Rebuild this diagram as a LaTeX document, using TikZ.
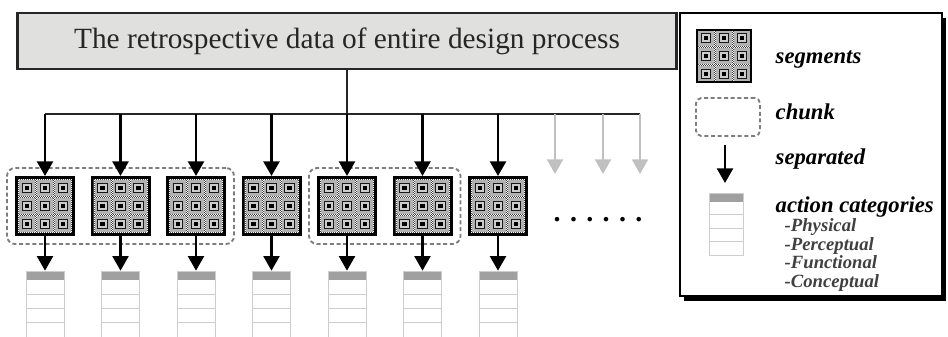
\documentclass[tikz,border=0pt]{standalone}
\usepackage{fontspec}
\setmainfont{Liberation Serif}
\usetikzlibrary{arrows.meta, positioning, calc, fit, shadows}

\definecolor{BoxGray}{RGB}{224,224,222}
\definecolor{HeadGray}{RGB}{160,160,160}
\definecolor{RuleGray}{RGB}{205,205,205}
\definecolor{ArrowGray}{RGB}{192,192,192}
\definecolor{ChunkGray}{RGB}{125,125,125}

\tikzset{
  segbox/.style={draw=black, line width=2pt, fill=black!75, minimum size=43pt, inner sep=0pt,
    path picture={
      \foreach \u in {-1,0,1} \foreach \v in {-1,0,1} {
        \coordinate (cc) at ($(path picture bounding box.center)+(\u*13.5pt,\v*13.5pt)$);
        \fill[gray!60] ($(cc)+(-6pt,-6pt)$) rectangle ($(cc)+(6pt,6pt)$);
        \draw[white, densely dotted, line width=0.5pt] ($(cc)+(-6.4pt,-6.4pt)$) rectangle ($(cc)+(6.4pt,6.4pt)$);
        \draw[black!90, line width=0.9pt, fill=gray!40] ($(cc)+(-3.6pt,-3.6pt)$) rectangle ($(cc)+(3.6pt,3.6pt)$);
        \fill[black] ($(cc)+(-1.6pt,-1.6pt)$) rectangle ($(cc)+(1.6pt,1.6pt)$);
      }}},
  tbl/.style={draw=RuleGray, line width=0.6pt, minimum width=28.5pt, minimum height=49.5pt, inner sep=0pt,
    path picture={
      \fill[HeadGray] (path picture bounding box.north west) rectangle ($(path picture bounding box.north east)+(0pt,-6.75pt)$);
      \foreach \k in {1,2,3}
        \draw[RuleGray, line width=0.6pt] ($(path picture bounding box.north west)!{0.136+0.216*\k}!(path picture bounding box.south west)$) -- ($(path picture bounding box.north east)!{0.136+0.216*\k}!(path picture bounding box.south east)$);
    }},
  sep/.style={line width=1.9pt, -{Triangle[width=12pt,length=11pt]}},
  ghost/.style={ArrowGray, line width=1.5pt, -{Triangle[width=12pt,length=11pt]}},
  bus/.style={line width=1.5pt, black!85},
  chunkbox/.style={draw=ChunkGray, dash pattern=on 3pt off 2pt, line width=1.4pt, rounded corners=6pt, inner sep=6pt},
  legtext/.style={anchor=base west, font=\fontsize{17}{19}\selectfont\bfseries\itshape},
  subtext/.style={anchor=base west, font=\fontsize{14}{15}\selectfont\bfseries\itshape, text=black!75}
}

\begin{document}
\begin{tikzpicture}[x=0.75pt, y=-0.75pt]
\useasboundingbox (0,0) rectangle (948,336);

% source box and bus
\node[draw=black!85, line width=1.8pt, fill=BoxGray, minimum width=494pt, minimum height=42pt,
  font=\fontsize{22}{24}\selectfont, text=black!85] (top) at (347,41) {The retrospective data of entire design process};

% segments, tables
\foreach \x [count=\i] in {45,120.5,196,271.5,347,422.5,498} {
  \coordinate (b\i) at (\x,114);
  \node[segbox] (s\i) at (\x,206) {};
  \node[tbl, below=26pt of s\i] (t\i) {};
}
\coordinate (g1) at (555,114);
\coordinate (g2) at (603,114);
\coordinate (g3) at (640,114);
\coordinate (e1) at (555,174);
\coordinate (e2) at (603,174);
\coordinate (e3) at (640,174);

% chunks
\node[chunkbox, fit=(s1)(s3)] (c1) {};
\node[chunkbox, fit=(s5)(s6)] (c2) {};

\draw[bus] (top.south) -- (b5);
\draw[bus] (b1) -- (g3);
\foreach \i in {1,...,7} {
  \draw[sep] (b\i) -- (s\i);
  \draw[sep] (s\i) -- (t\i);
}
\foreach \k in {1,2,3} \draw[ghost] (g\k) -- (e\k);

\node[anchor=base west, font=\fontsize{21}{21}\selectfont\bfseries] (dots) at (549,221) {. . . . . .};

% legend
\node[draw=black, line width=1.3pt, fill=white, minimum width=196.7pt, minimum height=212.5pt,
  drop shadow={shadow xshift=3pt, shadow yshift=-3.5pt, fill=black, opacity=1}] (legend) at (811,154.5) {};
\node[segbox, minimum width=40.5pt, minimum height=39pt] (lseg) at (724,56) {};
\node[legtext] (lsegt) at (771,63) {segments};
\node[chunkbox, minimum width=48pt, minimum height=28.5pt, inner sep=0pt, rounded corners=4pt] (lchunk) at (728,117) {};
\node[legtext] (lchunkt) at (771,119) {chunk};
\coordinate (la) at (725,145);
\coordinate (lb) at (725,183);
\draw[sep] (la) -- (lb);
\node[legtext] (lsept) at (771,164) {separated};
\node[tbl, minimum width=25.5pt, minimum height=46.5pt] (ltbl) at (726,224) {};
\node[legtext] (lact) at (771,212) {action categories};
\node[subtext] (lphy) at (780,231) {-Physical};
\node[subtext] (lper) at (780,250) {-Perceptual};
\node[subtext] (lfun) at (780,268) {-Functional};
\node[subtext] (lcon) at (780,287) {-Conceptual};
\end{tikzpicture}
\end{document}
